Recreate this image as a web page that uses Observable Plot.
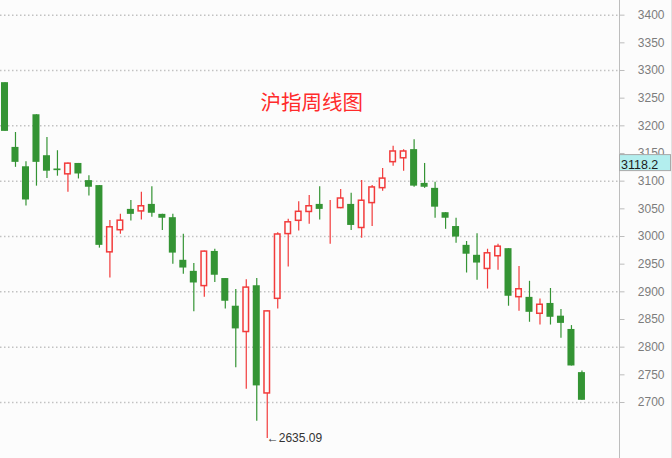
<!DOCTYPE html>
<html>
<head>
<meta charset="utf-8">
<script src="https://cdn.jsdelivr.net/npm/d3@7"></script>
<script src="https://cdn.jsdelivr.net/npm/@observablehq/plot@0.6"></script>
<style>
  html, body { margin: 0; padding: 0; background: #fcfcfc; }
  #chart { width: 672px; height: 458px; overflow: hidden; }
</style>
</head>
<body>
<div id="chart"></div>
<script>
// Weekly candles of the Shanghai Composite, oldest first
const opens  = [3278, 3161, 3126, 3220, 3146, 3122, 3111, 3132, 3101, 3092,
                2970, 3010, 3049, 3044, 3058, 3040, 3034, 2957, 2937, 2909,
                2973, 2924, 2874, 2826, 2911, 2715, 2886, 3003, 3027, 3043,
                3058, 3041, 3050, 3058, 3014, 3059, 3086, 3133, 3140, 3157,
                3096, 3087, 3043, 3018, 2984, 2966, 2940, 2963, 2978, 2889,
                2890, 2859, 2879, 2856, 2832, 2754];
const highs  = [3278, 3188, 3135, 3220, 3179, 3155, 3133, 3132, 3110, 3092,
                3029, 3040, 3065, 3080, 3090, 3040, 3040, 3004, 2951, 2974,
                2977, 2924, 2904, 2922, 2924, 2866, 3007, 3031, 3063, 3074,
                3090, 3065, 3085, 3078, 3101, 3092, 3123, 3163, 3157, 3175,
                3132, 3098, 3043, 3033, 2991, 3005, 2977, 2986, 2978, 2946,
                2919, 2887, 2906, 2868, 2839, 2757];
const lows   = [3190, 3125, 3055, 3091, 3105, 3109, 3080, 3104, 3073, 2979,
                2925, 3004, 3028, 3030, 3035, 3011, 2950, 2932, 2864, 2890,
                2917, 2869, 2763, 2724, 2666, 2635.09, 2869, 2945, 3010, 3022,
                3030, 2986, 3050, 3011, 2997, 3018, 3082, 3127, 3118, 3089,
                3087, 3033, 3013, 2988, 2934, 2921, 2905, 2939, 2874, 2865,
                2845, 2840, 2840, 2816, 2766, 2704];
const closes = [3190, 3134, 3066, 3134, 3118, 3119, 3133, 3113, 3089, 2984,
                3018, 3030, 3040, 3056, 3042, 3033, 2970, 2943, 2916, 2974,
                2930, 2883, 2833, 2909, 2730, 2866, 3005, 3027, 3046, 3056,
                3049, 3043, 3070, 3020, 3066, 3090, 3106, 3155, 3155, 3091,
                3089, 3053, 3033, 2999, 2968, 2952, 2971, 2983, 2892, 2906,
                2863, 2878, 2854, 2843, 2766, 2704];

// Price axis labels, dotted grid levels, headline and price tag
const yTicks = [2700, 2750, 2800, 2850, 2900, 2950, 3000, 3050, 3100, 3150, 3200, 3250, 3300, 3350, 3400];
const gridLevels = [2700, 2800, 2900, 3000, 3100, 3200, 3300, 3400];
const title = "沪指周线图";
const priceTag = [3118.2];

const bars = opens.map((o, i) => ({
  i, open: o, high: highs[i], low: lows[i], close: closes[i], up: closes[i] >= o
}));
const lowest = bars.reduce((a, b) => (b.low < a.low ? b : a));

const W = 672, H = 458, marginRight = 53;
const xDomain = [-0.429, 58.58];
const yDomain = [2598.8, 3426.5];
const plotW = W - marginRight;
const unitX = (xDomain[1] - xDomain[0]) / plotW;   // x units per pixel
const unitY = (yDomain[1] - yDomain[0]) / H;       // y units per pixel
const xEdge = xDomain[1];

const red = "#f23b3b";
const green = "#349434";
const bg = "#fcfcfc";
const half = 0.335;

const chart = Plot.plot({
  width: W,
  height: H,
  marginLeft: 0,
  marginRight,
  marginTop: 0,
  marginBottom: 0,
  style: { background: bg, fontFamily: "'Liberation Sans', Arial, sans-serif", fontSize: "12px" },
  color: { type: "identity" },
  x: { domain: xDomain, axis: null },
  y: { domain: yDomain, axis: null },
  marks: [
    // dotted price grid
    Plot.ruleY(gridLevels, { stroke: "#c2c2c2", strokeWidth: 1.5, strokeDasharray: "1.5,2.5" }),
    // price axis: line, ticks and labels on the right
    Plot.ruleX([xEdge], { stroke: "#bdbdbd" }),
    Plot.link(yTicks, {
      x1: () => xEdge, x2: () => xEdge + 5 * unitX, y1: d => d, y2: d => d, stroke: "#bdbdbd"
    }),
    Plot.text(yTicks, {
      y: d => d, text: d => String(d), frameAnchor: "right", textAnchor: "end",
      dx: 45, fill: "#7c7c7c", fontSize: 12
    }),
    Plot.ruleX([xEdge + 52.5 * unitX], { stroke: "#c8c8c8" }),
    // wicks
    Plot.ruleX(bars, { x: "i", y1: "low", y2: "high", stroke: d => (d.up ? red : green), strokeWidth: 1.2 }),
    // falling weeks: solid green bodies
    Plot.rect(bars.filter(d => !d.up), {
      x1: d => d.i - half, x2: d => d.i + half, y1: "open", y2: "close", fill: green
    }),
    // rising weeks: hollow red bodies
    Plot.rect(bars.filter(d => d.up), {
      x1: d => d.i - half, x2: d => d.i + half, y1: "open", y2: "close",
      fill: bg, stroke: red, strokeWidth: 1.5, inset: 0.75
    }),
    // lowest low marker
    Plot.text([lowest], {
      x: "i", y: "low", text: d => "←" + d.low.toFixed(2),
      textAnchor: "start", dx: -0.5, fill: "#333", fontSize: 12
    }),
    Plot.text([title], {
      frameAnchor: "top-left", dx: 260, dy: 95, textAnchor: "start",
      fontSize: 20.5, fill: "#ff2b2b", fontFamily: "'Noto Sans CJK SC', sans-serif"
    }),
    // price tag: cyan box sitting on its level, drawn over the axis labels
    Plot.rect(priceTag, {
      x1: () => xEdge + 0.5 * unitX, x2: () => xEdge + 51.5 * unitX,
      y1: d => d, y2: d => d + 16 * unitY,
      fill: "#b3eeee", stroke: "#a9a9a9", strokeWidth: 1
    }),
    Plot.text(priceTag, {
      y: d => d, text: d => d.toFixed(1), frameAnchor: "right",
      textAnchor: "start", lineAnchor: "bottom", dx: 1.5, dy: -2.5,
      fill: "#1c1c1c", fontSize: 12.5
    })
  ]
});

document.getElementById("chart").appendChild(chart);
</script>
</body>
</html>
